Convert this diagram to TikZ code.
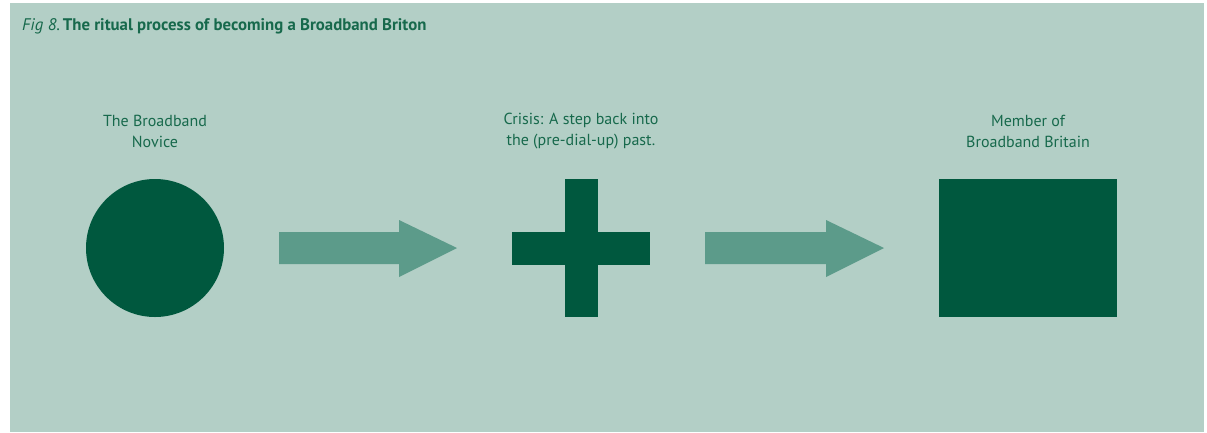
\documentclass[tikz,border=0pt]{standalone}
\usepackage{fontspec}
\setmainfont{PT Sans}
\definecolor{bg}{HTML}{B3CFC6}
\definecolor{arrowc}{HTML}{5C9B8A}
\definecolor{dark}{HTML}{00583E}
\definecolor{txt}{HTML}{17694C}
\begin{document}
\begin{tikzpicture}[x=1pt,y=-1pt,
  lbl/.style={text=txt,align=center,font=\fontsize{16}{21}\selectfont,inner sep=0pt},
  shapefill/.style={fill=dark,draw=none},
  bigarrow/.style={fill=arrowc,draw=none}]
\useasboundingbox (0,0) rectangle (1207,432);
\fill[white] (0,0) rectangle (1207,432);
\fill[bg] (9.5,3) rectangle (1204,432);
% title
\node[anchor=base west,text=txt,inner sep=0pt,font=\fontsize{16.8}{18}\selectfont] (title) at (22,30)
  {\textit{Fig 8.}\,\textbf{The ritual process of becoming a Broadband Briton}};
% labels
\node[lbl] (l1) at (155,131) {The Broadband\\Novice};
\node[lbl] (l2) at (581,131) {Crisis: A step back into\\the (pre-dial-up) past.};
\node[lbl] (l3) at (1028,131) {Member of\\Broadband Britain};
% circle
\fill[shapefill] (155,248) circle (69);
\coordinate (c1) at (155,248);
% cross
\fill[shapefill] (565,179) rectangle (598,317);
\fill[shapefill] (512,232) rectangle (650,265);
% rectangle
\fill[shapefill] (939,179) rectangle (1117,317);
% arrows
\fill[bigarrow] (279,232) -- (399,232) -- (399,220) -- (457,248) -- (399,277) -- (399,264) -- (279,264) -- cycle;
\fill[bigarrow] (705,232) -- (826,232) -- (826,220) -- (884,248) -- (826,277) -- (826,264) -- (705,264) -- cycle;
\end{tikzpicture}
\end{document}
